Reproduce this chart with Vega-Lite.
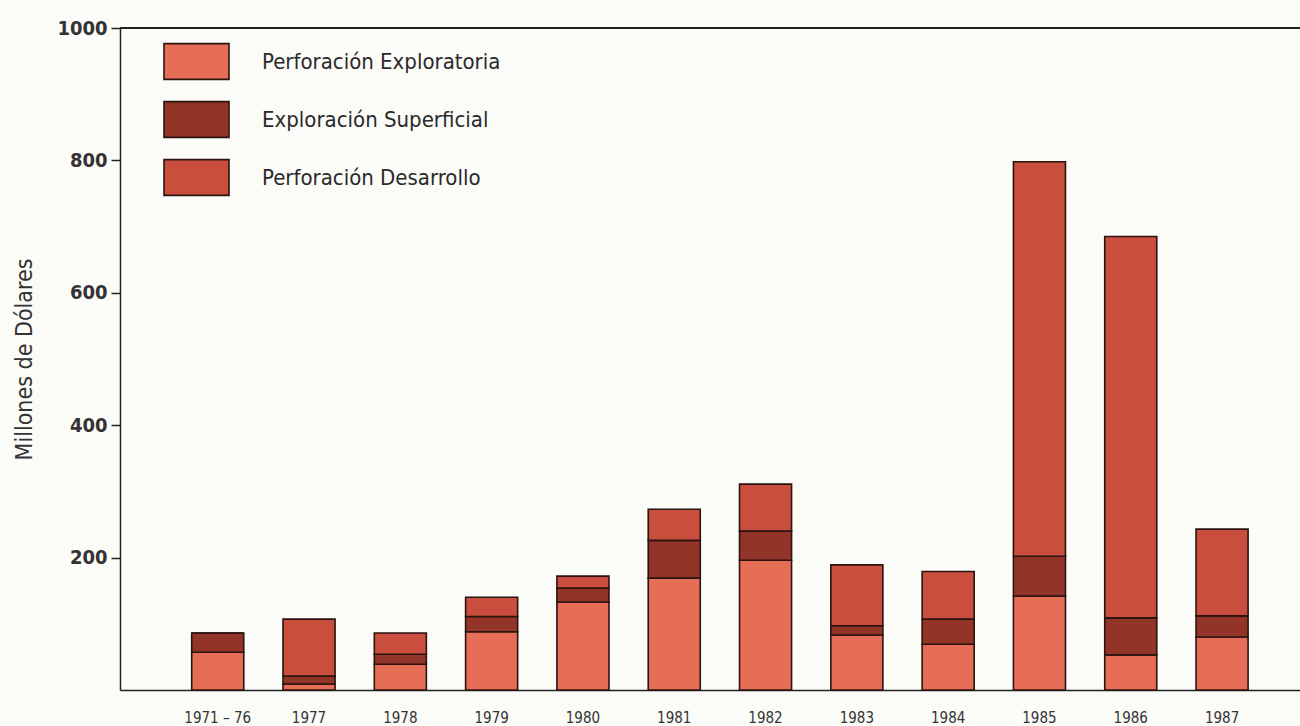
{
  "$schema": "https://vega.github.io/schema/vega-lite/v6.json",
  "width": 1180,
  "height": 662,
  "autosize": "none",
  "padding": {"left": 120, "top": 28, "right": 0, "bottom": 36},
  "background": "#fbfbf8",
  "config": {
    "view": {"stroke": null},
    "font": "Liberation Sans Narrow, DejaVu Sans Condensed, Roboto, sans-serif"
  },
  "data": {
    "values": [
      {"periodo": "1971 – 76", "tipo": "Perforación Exploratoria", "orden": 1, "valor": 57},
      {"periodo": "1971 – 76", "tipo": "Exploración Superficial", "orden": 2, "valor": 29},
      {"periodo": "1971 – 76", "tipo": "Perforación Desarrollo", "orden": 3, "valor": 0},
      {"periodo": "1977", "tipo": "Perforación Exploratoria", "orden": 1, "valor": 9},
      {"periodo": "1977", "tipo": "Exploración Superficial", "orden": 2, "valor": 12},
      {"periodo": "1977", "tipo": "Perforación Desarrollo", "orden": 3, "valor": 86},
      {"periodo": "1978", "tipo": "Perforación Exploratoria", "orden": 1, "valor": 39},
      {"periodo": "1978", "tipo": "Exploración Superficial", "orden": 2, "valor": 15},
      {"periodo": "1978", "tipo": "Perforación Desarrollo", "orden": 3, "valor": 32},
      {"periodo": "1979", "tipo": "Perforación Exploratoria", "orden": 1, "valor": 88},
      {"periodo": "1979", "tipo": "Exploración Superficial", "orden": 2, "valor": 23},
      {"periodo": "1979", "tipo": "Perforación Desarrollo", "orden": 3, "valor": 29},
      {"periodo": "1980", "tipo": "Perforación Exploratoria", "orden": 1, "valor": 133},
      {"periodo": "1980", "tipo": "Exploración Superficial", "orden": 2, "valor": 21},
      {"periodo": "1980", "tipo": "Perforación Desarrollo", "orden": 3, "valor": 18},
      {"periodo": "1981", "tipo": "Perforación Exploratoria", "orden": 1, "valor": 169},
      {"periodo": "1981", "tipo": "Exploración Superficial", "orden": 2, "valor": 57},
      {"periodo": "1981", "tipo": "Perforación Desarrollo", "orden": 3, "valor": 47},
      {"periodo": "1982", "tipo": "Perforación Exploratoria", "orden": 1, "valor": 196},
      {"periodo": "1982", "tipo": "Exploración Superficial", "orden": 2, "valor": 44},
      {"periodo": "1982", "tipo": "Perforación Desarrollo", "orden": 3, "valor": 71},
      {"periodo": "1983", "tipo": "Perforación Exploratoria", "orden": 1, "valor": 83},
      {"periodo": "1983", "tipo": "Exploración Superficial", "orden": 2, "valor": 14},
      {"periodo": "1983", "tipo": "Perforación Desarrollo", "orden": 3, "valor": 92},
      {"periodo": "1984", "tipo": "Perforación Exploratoria", "orden": 1, "valor": 69},
      {"periodo": "1984", "tipo": "Exploración Superficial", "orden": 2, "valor": 38},
      {"periodo": "1984", "tipo": "Perforación Desarrollo", "orden": 3, "valor": 72},
      {"periodo": "1985", "tipo": "Perforación Exploratoria", "orden": 1, "valor": 142},
      {"periodo": "1985", "tipo": "Exploración Superficial", "orden": 2, "valor": 60},
      {"periodo": "1985", "tipo": "Perforación Desarrollo", "orden": 3, "valor": 596},
      {"periodo": "1986", "tipo": "Perforación Exploratoria", "orden": 1, "valor": 53},
      {"periodo": "1986", "tipo": "Exploración Superficial", "orden": 2, "valor": 56},
      {"periodo": "1986", "tipo": "Perforación Desarrollo", "orden": 3, "valor": 576},
      {"periodo": "1987", "tipo": "Perforación Exploratoria", "orden": 1, "valor": 80},
      {"periodo": "1987", "tipo": "Exploración Superficial", "orden": 2, "valor": 32},
      {"periodo": "1987", "tipo": "Perforación Desarrollo", "orden": 3, "valor": 131}
    ]
  },
  "layer": [
    {
      "mark": {"type": "bar", "stroke": "#2a1410", "strokeWidth": 1.6},
      "encoding": {
        "x": {
          "field": "periodo",
          "type": "nominal",
          "sort": null,
          "scale": {"paddingInner": 0.43, "paddingOuter": 0.677, "align": 0.58},
          "axis": {
            "title": null,
            "labelAngle": 0,
            "ticks": false,
            "labelPadding": 20,
            "labelFontSize": 15,
            "labelColor": "#333333",
            "domainColor": "#222222",
            "domainWidth": 1.5
          }
        },
        "y": {
          "field": "valor",
          "type": "quantitative",
          "stack": "zero",
          "scale": {"domain": [0, 1000], "nice": false},
          "axis": {
            "title": "Millones de Dólares",
            "titleFontSize": 23,
            "titleFontWeight": "normal",
            "titleColor": "#333333",
            "titlePadding": 20,
            "values": [200, 400, 600, 800, 1000],
            "format": "d",
            "grid": false,
            "labelFontSize": 20,
            "labelFontWeight": "bold",
            "labelColor": "#333333",
            "labelPadding": 4,
            "tickSize": 9,
            "tickColor": "#222222",
            "tickWidth": 1.5,
            "domainColor": "#222222",
            "domainWidth": 1.5
          }
        },
        "color": {
          "field": "tipo",
          "type": "nominal",
          "scale": {
            "domain": ["Perforación Exploratoria", "Exploración Superficial", "Perforación Desarrollo"],
            "range": ["#e66e57", "#923428", "#c94e3d"]
          },
          "legend": {
            "title": null,
            "orient": "none",
            "legendX": 43,
            "legendY": 0,
            "symbolType": "M-1,-0.55H1V0.55H-1Z",
            "symbolSize": 4225,
            "symbolStrokeColor": "#2a1410",
            "symbolStrokeWidth": 1.6,
            "symbolOpacity": 1,
            "labelFontSize": 22,
            "labelColor": "#2a2a2a",
            "labelOffset": 32,
            "rowPadding": 3,
            "labelLimit": 400
          }
        },
        "order": {"field": "orden", "type": "quantitative"}
      }
    },
    {
      "mark": {"type": "rule", "color": "#222222", "strokeWidth": 1.5},
      "encoding": {"y": {"datum": 1000}}
    }
  ]
}
